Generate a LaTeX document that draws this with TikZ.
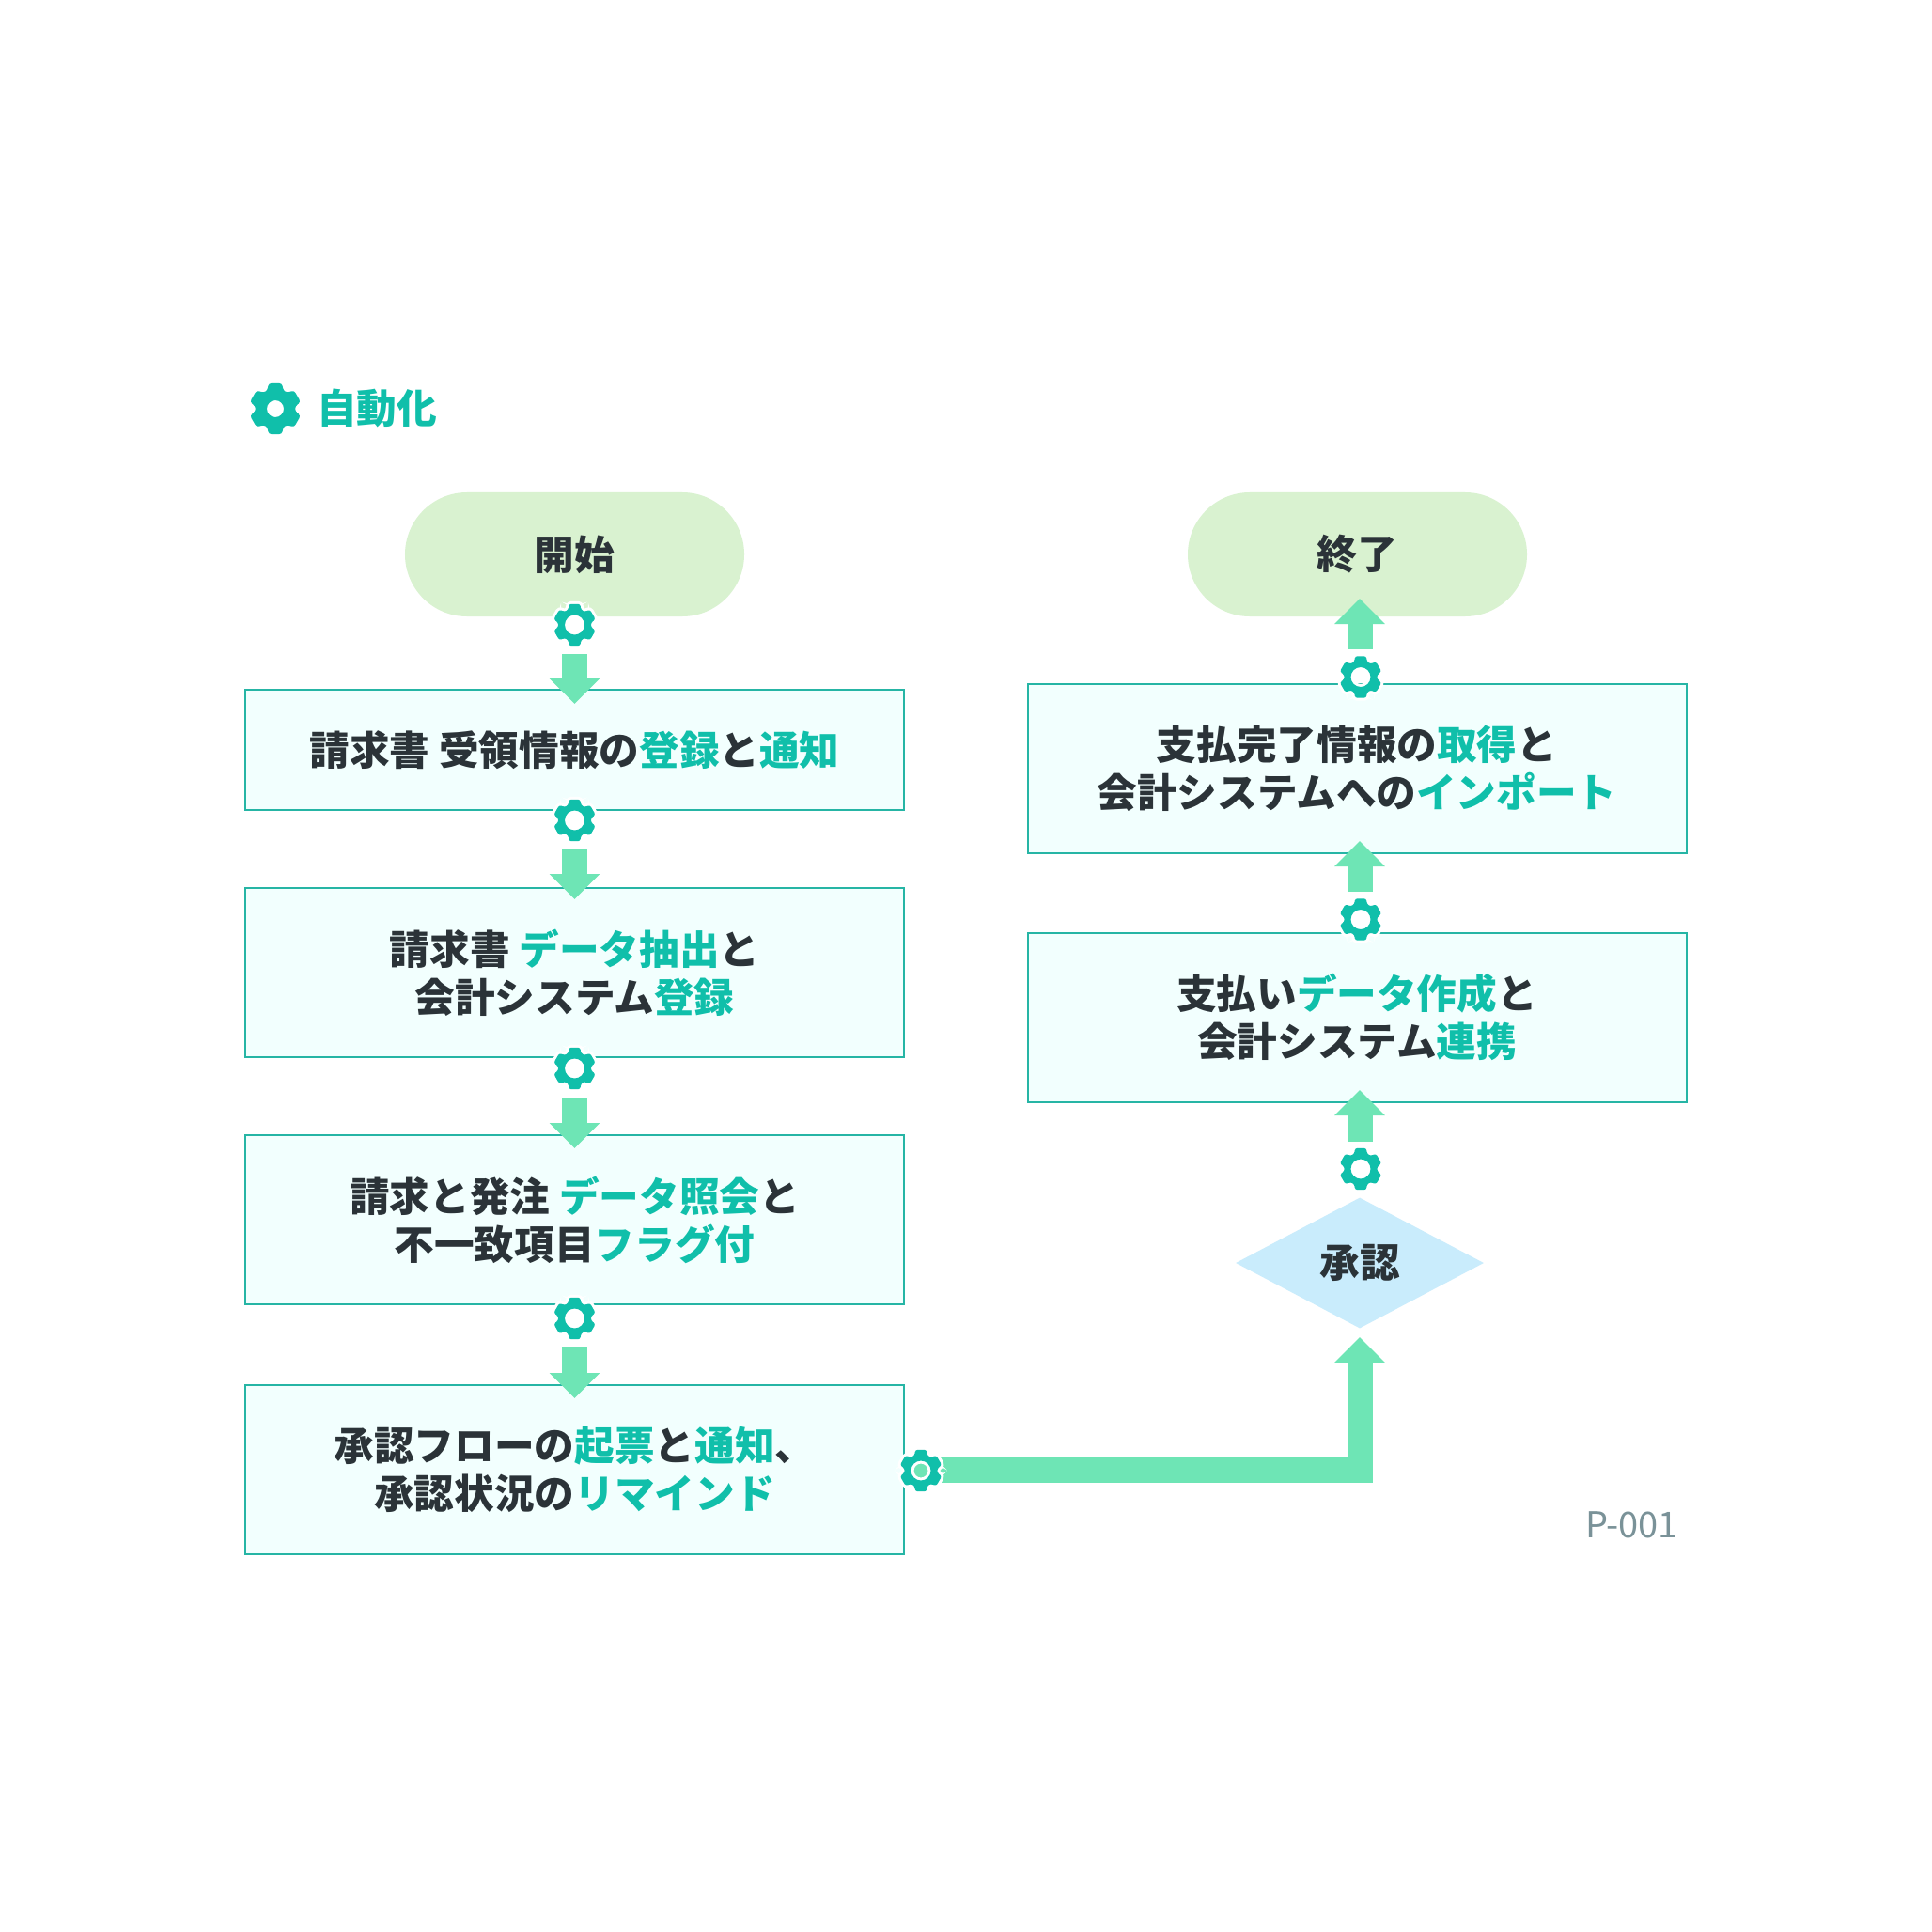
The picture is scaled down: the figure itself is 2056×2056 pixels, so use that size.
\documentclass[tikz,border=0pt]{standalone}
\usepackage{fontspec}
\setmainfont{Noto Sans CJK JP}
\usetikzlibrary{arrows.meta,shapes.geometric}
\definecolor{inkdark}{HTML}{2B3338}
\definecolor{tealhl}{HTML}{10BFAA}
\definecolor{mintarrow}{HTML}{6EE5B5}
\definecolor{pillgreen}{HTML}{D9F2D0}
\definecolor{boxfill}{HTML}{F2FFFE}
\definecolor{boxline}{HTML}{26B5A5}
\definecolor{diamondblue}{HTML}{C9ECFC}
\definecolor{codegray}{HTML}{7A9298}
\newcommand{\hlt}[1]{\textcolor{tealhl}{#1}}
\tikzset{
  x=0.03cm,y=-0.03cm,
  labeltext/.style={font=\fontsize{36.4}{43.5}\selectfont\bfseries,text=inkdark,align=center,inner sep=0pt},
  pillnode/.style={labeltext,fill=pillgreen,rounded corners=1.98cm,minimum width=10.83cm,minimum height=3.96cm},
  boxnode/.style={labeltext,draw=boxline,line width=0.06cm,fill=boxfill,minimum width=21.03cm},
  decnode/.style={labeltext,diamond,fill=diamondblue,shape aspect=1.9,minimum width=7.92cm,minimum height=4.17cm},
  blockarrow/.style={draw=mintarrow,line width=0.81cm,-{Triangle[length=0.81cm,width=1.56cm,fill=mintarrow]}},
  pics/gear/.style n args={3}{code={
    \path[fill=tealhl,even odd rule,rounded corners=#1*0.0032cm,line join=round,
          preaction={draw=white,line width=#3}]
      (67:#1*0.76)
      \foreach \a in {90,150,210,270,330}{
        -- (\a-15:#1) -- (\a+15:#1) -- (\a+23:#1*0.76) -- (\a+37:#1*0.76)
      }
      -- (375:#1) -- (405:#1) -- (413:#1*0.76) -- cycle
      (0,0) circle (#2);
  }},
}
\begin{document}
\begin{tikzpicture}
\useasboundingbox[fill=white] (0,0) rectangle (2056,2056);
% legend
\coordinate (legendgear) at (293,435);
\node[font=\fontsize{36.4}{43.5}\selectfont\bfseries,text=tealhl,anchor=west,inner sep=0pt] (legendtext) at (337,434) {自動化};
% nodes
\node[pillnode] (start) at (611.5,590) {開始};
\node[pillnode] (end) at (1444.5,590) {終了};
\node[boxnode,minimum height=3.84cm] (b1) at (611.5,798) {請求書 受領情報の\hlt{登録}と\hlt{通知}};
\node[boxnode,minimum height=5.4cm] (b2) at (611.5,1035) {請求書 \hlt{データ抽出}と\\会計システム\hlt{登録}};
\node[boxnode,minimum height=5.4cm] (b3) at (611.5,1298) {請求と発注 \hlt{データ照会}と\\不一致項目\hlt{フラグ付}};
\node[boxnode,minimum height=5.4cm] (b4) at (611.5,1563.5) {承認フローの\hlt{起票}と\hlt{通知}、\\承認状況の\hlt{リマインド}};
\node[boxnode,minimum height=5.4cm] (r1) at (1444,817.5) {支払完了情報の\hlt{取得}と\\会計システムへの\hlt{インポート}};
\node[boxnode,minimum height=5.4cm] (r2) at (1444,1082.5) {支払い\hlt{データ作成}と\\会計システム\hlt{連携}};
\node[decnode] (dec) at (1447,1344) {承認};
\node[font=\fontsize{32.4}{40}\selectfont,text=codegray,inner sep=0pt] (code) at (1736.5,1623) {P-001};
% coordinates of connector ends
\coordinate (g1) at (611.5,665);
\coordinate (g2) at (611.5,873);
\coordinate (g3) at (611.5,1137);
\coordinate (g4) at (611.5,1403);
\coordinate (g5) at (980,1565);
\coordinate (g6) at (1448,1244);
\coordinate (g7) at (1448,978.5);
\coordinate (g8) at (1448,720.5);
\coordinate (t1) at (611.5,749);
\coordinate (t2) at (611.5,957);
\coordinate (t3) at (611.5,1222);
\coordinate (t4) at (611.5,1488);
\coordinate (s1) at (611.5,696);
\coordinate (s2) at (611.5,903);
\coordinate (s3) at (611.5,1168);
\coordinate (s4) at (611.5,1433);
\coordinate (s5) at (962,1564.5);
\coordinate (bend) at (1447,1564.5);
\coordinate (t5) at (1447,1423);
\coordinate (s6) at (1447,1215);
\coordinate (t6) at (1447,1160);
\coordinate (s7) at (1447,949);
\coordinate (t7) at (1447,895);
\coordinate (s8) at (1447,691);
\coordinate (t8) at (1447,637);
% connectors
\draw[blockarrow] (s1) -- (t1);
\draw[blockarrow] (s2) -- (t2);
\draw[blockarrow] (s3) -- (t3);
\draw[blockarrow] (s4) -- (t4);
\draw[blockarrow,line join=miter] (s5) -- (bend) -- (t5);
\draw[blockarrow] (s6) -- (t6);
\draw[blockarrow] (s7) -- (t7);
\draw[blockarrow] (s8) -- (t8);
% gears
\pic at (legendgear) {gear={28}{9}{0pt}};
\foreach \g in {g1,g2,g3,g4,g5,g6,g7,g8}{
  \pic at (\g) {gear={23}{10.5}{0.18cm}};
}
\end{tikzpicture}
\end{document}
